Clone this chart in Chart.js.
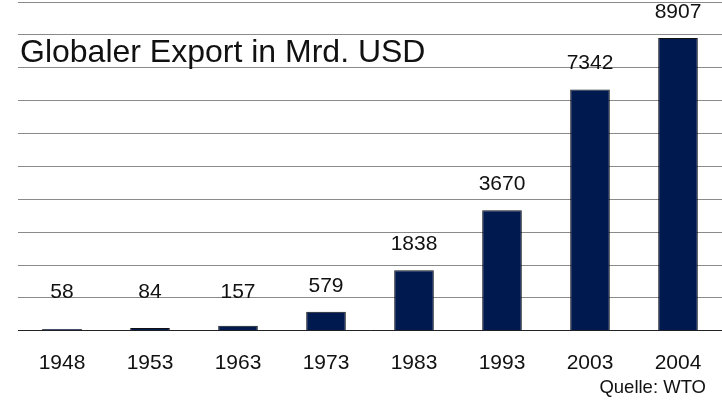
<!DOCTYPE html>
<html>
<head>
<meta charset="utf-8">
<script src="https://cdn.jsdelivr.net/npm/chart.js@4"></script>
<style>
  html, body { margin: 0; padding: 0; background: #fff; }
  #wrap { width: 722px; height: 401px; }
</style>
</head>
<body>
<div id="wrap"><canvas id="exportChart"></canvas></div>
<script>
const years = ["1948", "1953", "1963", "1973", "1983", "1993", "2003", "2004"];
const exportValues = [58, 84, 157, 579, 1838, 3670, 7342, 8907];
const chartTitle = "Globaler Export in Mrd. USD";
const sourceNote = "Quelle: WTO";

const fontFamily = "'Liberation Sans', Arial, sans-serif";

// title, value labels and source note are drawn on top of the chart
const textPlugin = {
    id: "textPlugin",
    afterDatasetsDraw(chart) {
        const ctx = chart.ctx;
        const area = chart.chartArea;
        ctx.save();
        ctx.fillStyle = "#111";

        ctx.font = "32px " + fontFamily;
        ctx.textAlign = "left";
        ctx.textBaseline = "middle";
        ctx.fillText(chartTitle, area.left + 2, 53);

        ctx.font = "21px " + fontFamily;
        ctx.textAlign = "center";
        const meta = chart.getDatasetMeta(0);
        meta.data.forEach((bar, i) => {
            let y = Math.min(bar.y - 26, 292);
            ctx.fillText(String(exportValues[i]), bar.x, y);
        });

        ctx.font = "18.5px " + fontFamily;
        ctx.textAlign = "right";
        ctx.fillText(sourceNote, 706, 388);
        ctx.restore();
    }
};

const ctx = document.getElementById("exportChart").getContext("2d");
new Chart(ctx, {
    type: "bar",
    data: {
        labels: years,
        datasets: [{
            data: exportValues,
            backgroundColor: "#001a50",
            borderColor: "#111",
            borderWidth: 1,
            categoryPercentage: 1,
            barPercentage: 0.45
        }]
    },
    options: {
        responsive: true,
        maintainAspectRatio: false,
        animation: false,
        layout: { padding: { left: 18, right: 0, top: 2, bottom: 5 } },
        plugins: {
            legend: { display: false },
            tooltip: { enabled: false },
            title: { display: false }
        },
        scales: {
            x: {
                grid: { display: false, drawTicks: false },
                border: { display: true, color: "#222", width: 1 },
                ticks: {
                    color: "#111",
                    padding: 20,
                    font: { size: 21, family: fontFamily }
                }
            },
            y: {
                min: 0,
                max: 10000,
                ticks: { display: false, stepSize: 1000 },
                grid: { color: "#8a8a8a", drawTicks: false },
                border: { display: false }
            }
        }
    },
    plugins: [textPlugin]
});
</script>
</body>
</html>
